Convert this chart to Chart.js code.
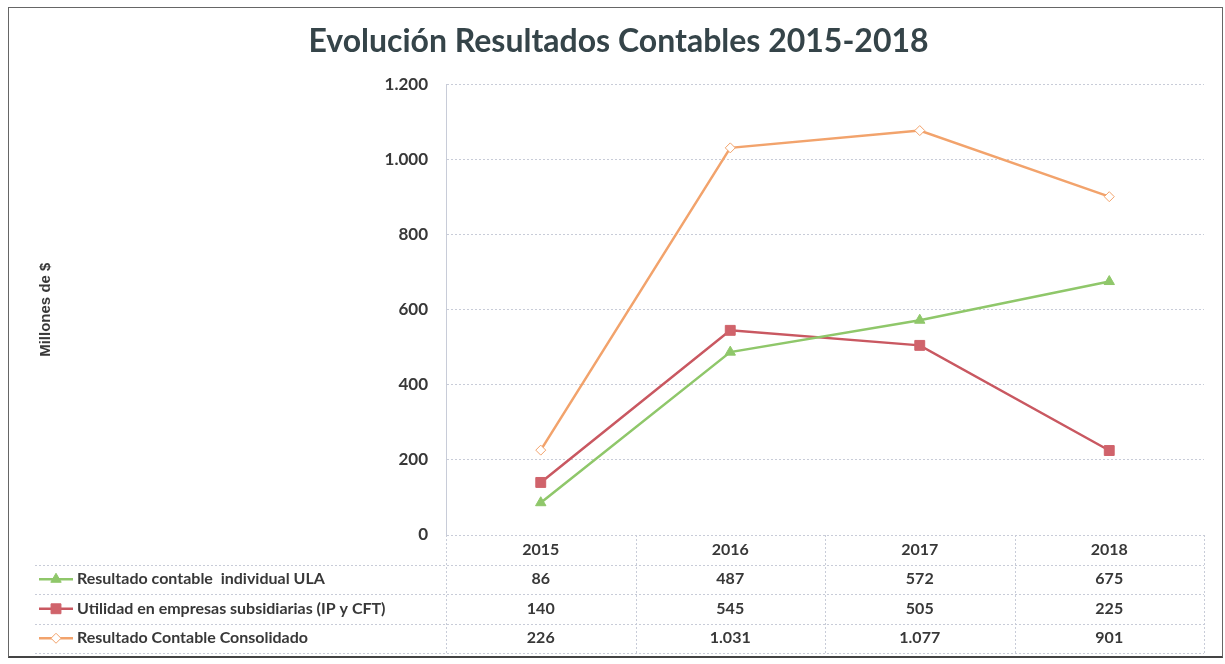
<!DOCTYPE html>
<html>
<head>
<meta charset="utf-8">
<script src="https://cdn.jsdelivr.net/npm/chart.js@4.4.1/dist/chart.umd.min.js"></script>
<style>
    body { margin: 0; background: #fff; }
    #wrap { position: relative; width: 1225px; height: 664px; }
    #frame { position: absolute; left: 8px; top: 7px; width: 1213px; height: 648px; border: 1px solid #666; border-bottom: 2px solid #444; pointer-events: none; }
</style>
</head>
<body>
<div id="wrap">
    <canvas id="chart" width="1225" height="664"></canvas>
    <div id="frame"></div>
</div>
<script>
const years = ['2015', '2016', '2017', '2018'];
const individualULA = [86, 487, 572, 675];
const subsidiarias = [140, 545, 505, 225];
const consolidado = [226, 1031, 1077, 901];
const seriesNames = [
    'Resultado contable  individual ULA',
    'Utilidad en empresas subsidiarias (IP y CFT)',
    'Resultado Contable Consolidado'
];

const gridColor = '#c8ccd8';
const textColor = '#383838';
const mainFont = 'Lato, "Open Sans", sans-serif';

function fmt(v) {
    return String(v).replace(/\B(?=(\d{3})+(?!\d))/g, '.');
}

// table under the plot, columns follow the category scale
const dataTable = {
    id: 'dataTable',
    afterDraw(chart) {
        const ctx = chart.ctx;
        const area = chart.chartArea;
        const xs = chart.scales.x;
        const rowH = 29.5;
        const top = area.bottom;
        const legendLeft = 35;

        ctx.save();
        ctx.strokeStyle = gridColor;
        ctx.lineWidth = 1;
        ctx.setLineDash([2, 2]);
        for (let r = 1; r <= 4; r++) {
            const y = Math.round(top + r * rowH) + 0.5;
            ctx.beginPath();
            ctx.moveTo(legendLeft, y);
            ctx.lineTo(area.right, y);
            ctx.stroke();
        }
        const edges = [area.left];
        for (let i = 0; i < years.length - 1; i++) {
            edges.push((xs.getPixelForValue(i) + xs.getPixelForValue(i + 1)) / 2);
        }
        edges.push(area.right);
        edges.forEach(x => {
            ctx.beginPath();
            ctx.moveTo(Math.round(x) + 0.5, top);
            ctx.lineTo(Math.round(x) + 0.5, top + 4 * rowH);
            ctx.stroke();
        });
        ctx.setLineDash([]);

        ctx.fillStyle = textColor;
        ctx.font = 'bold 16px ' + mainFont;
        ctx.textAlign = 'center';
        ctx.textBaseline = 'middle';
        years.forEach((yr, i) => {
            ctx.fillText(yr, xs.getPixelForValue(i), top + rowH / 2);
        });

        chart.data.datasets.forEach((ds, k) => {
            const cy = top + (k + 1.5) * rowH;
            ctx.fillStyle = textColor;
            ctx.textAlign = 'center';
            ds.data.forEach((v, i) => {
                ctx.fillText(fmt(v), xs.getPixelForValue(i), cy);
            });
            // legend key
            ctx.strokeStyle = ds.borderColor;
            ctx.lineWidth = 2.5;
            ctx.beginPath();
            ctx.moveTo(39, cy);
            ctx.lineTo(73, cy);
            ctx.stroke();
            ctx.fillStyle = ds.pointBackgroundColor;
            ctx.strokeStyle = ds.pointBorderColor;
            ctx.lineWidth = ds.pointBorderWidth;
            Chart.helpers.drawPoint(ctx, {
                pointStyle: ds.pointStyle,
                radius: ds.pointRadius,
                rotation: 0,
                borderWidth: ds.pointBorderWidth
            }, 56, cy);
            ctx.fillStyle = textColor;
            ctx.textAlign = 'left';
            ctx.fillText(seriesNames[k], 77, cy);
        });
        ctx.restore();
    }
};

const ctx = document.getElementById('chart').getContext('2d');
const chart = new Chart(ctx, {
    type: 'line',
    data: {
        labels: years,
        datasets: [{
            label: seriesNames[0],
            data: individualULA,
            borderColor: '#8fc76a',
            borderWidth: 2.5,
            pointStyle: 'triangle',
            pointRadius: 6,
            pointBackgroundColor: '#8fc76a',
            pointBorderColor: '#8fc76a',
            pointBorderWidth: 1,
            tension: 0
        }, {
            label: seriesNames[1],
            data: subsidiarias,
            borderColor: '#c95861',
            borderWidth: 2.5,
            pointStyle: 'rect',
            pointRadius: 7,
            pointBackgroundColor: '#d0636b',
            pointBorderColor: '#d0636b',
            pointBorderWidth: 1,
            tension: 0
        }, {
            label: seriesNames[2],
            data: consolidado,
            borderColor: '#f2a36c',
            borderWidth: 2.5,
            pointStyle: 'rectRot',
            pointRadius: 5,
            pointBackgroundColor: '#ffffff',
            pointBorderColor: '#f2a36c',
            pointBorderWidth: 1,
            tension: 0
        }]
    },
    options: {
        responsive: false,
        animation: false,
        layout: {
            padding: { left: 33, right: 21, top: 0, bottom: 129 }
        },
        plugins: {
            legend: { display: false },
            tooltip: { enabled: false },
            title: {
                display: true,
                text: 'Evolución Resultados Contables 2015-2018',
                color: '#354449',
                font: { family: mainFont, size: 32, weight: 'bold' },
                padding: { top: 22, bottom: 24 }
            }
        },
        scales: {
            x: {
                display: false,
                offset: true
            },
            y: {
                min: 0,
                max: 1200,
                afterFit(scale) { scale.width = 446 - 33; },
                ticks: {
                    stepSize: 200,
                    padding: 18,
                    color: textColor,
                    font: { family: mainFont, size: 17, weight: 'bold' },
                    callback: v => fmt(v)
                },
                grid: {
                    color: gridColor,
                    drawTicks: false
                },
                border: {
                    display: true,
                    color: gridColor,
                    dash: [2, 2]
                },
                title: {
                    display: true,
                    text: 'Millones de $',
                    color: textColor,
                    font: { family: '"Liberation Sans", Arial, sans-serif', size: 15, weight: 'bold' }
                }
            }
        }
    },
    plugins: [dataTable]
});
</script>
</body>
</html>
